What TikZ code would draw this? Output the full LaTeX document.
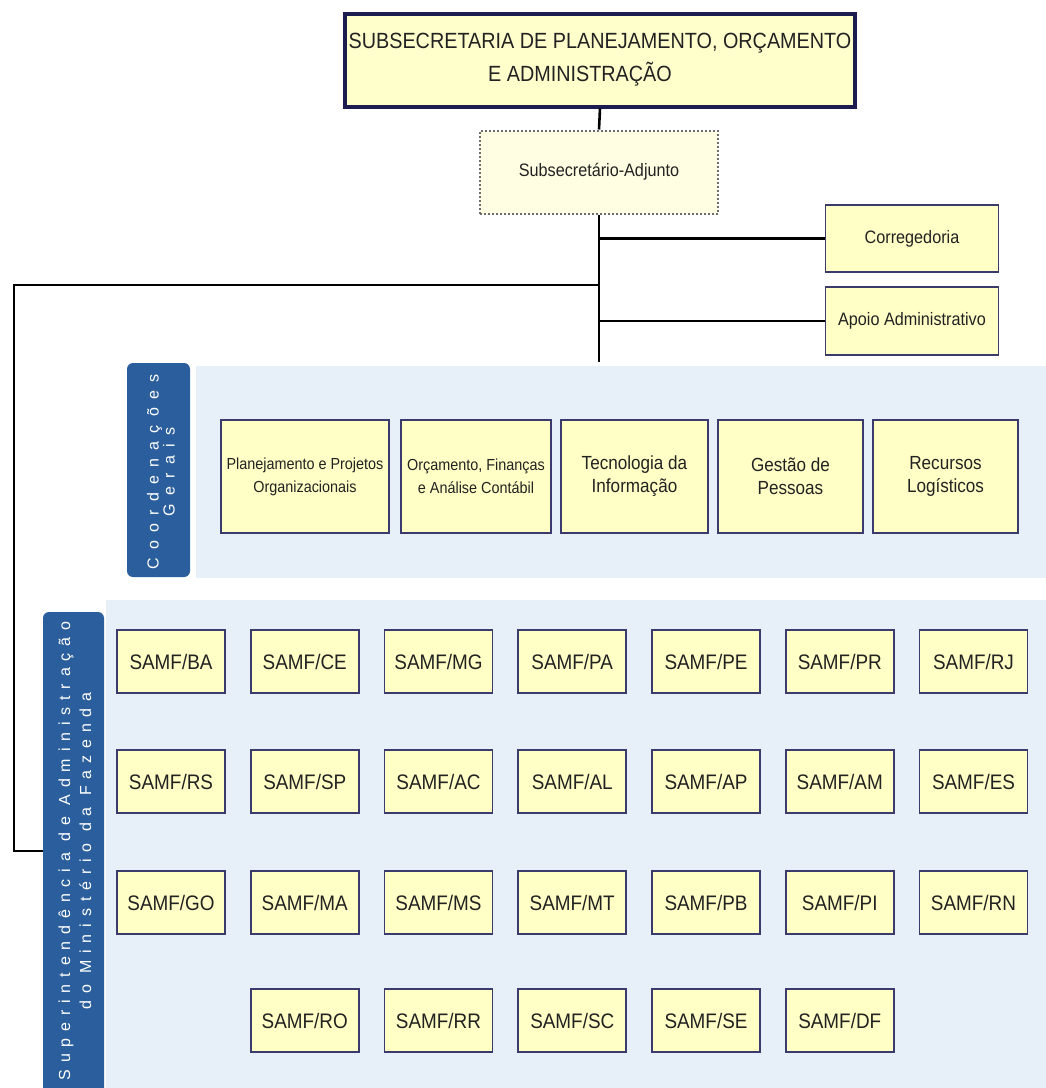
\documentclass[tikz,border=0pt]{standalone}
\usepackage{fontspec}
\setmainfont{Liberation Sans}
\newfontfamily\nar[FakeStretch=0.9]{Liberation Sans}
\newfontfamily\spcA[LetterSpace=52]{Liberation Sans}
\newfontfamily\spcB[LetterSpace=43]{Liberation Sans}
\definecolor{boxfill}{HTML}{FFFFC6}
\definecolor{titlefill}{HTML}{FFFFCC}
\definecolor{subfill}{HTML}{FFFDE2}
\definecolor{boxborder}{HTML}{3A3A6C}
\definecolor{titleborder}{HTML}{1C1C50}
\definecolor{barblue}{HTML}{2B5E9C}
\definecolor{panel}{HTML}{E7EFF9}
\definecolor{txt}{HTML}{222222}
\begin{document}
\begin{tikzpicture}[x=1pt,y=-1pt,
  ybox/.style={draw=boxborder, line width=1.8pt, fill=boxfill, inner sep=0pt,
    align=center, text=txt},
  samf/.style={ybox, minimum width=108pt, minimum height=63pt,
    font=\nar\fontsize{21}{25}\selectfont},
  coordbig/.style={ybox, minimum height=113pt, font=\nar\fontsize{19}{23}\selectfont},
  coordsmall/.style={ybox, minimum height=113pt, font=\nar\fontsize{16}{23}\selectfont},
  sidebox/.style={ybox, minimum width=173pt, font=\nar\fontsize{18}{22}\selectfont},
  bar/.style={fill=barblue, rounded corners=6pt},
  bartext/.style={rotate=90, align=center, text=white},
  conn/.style={draw=black, line width=2.6pt},
  thin/.style={draw=black, line width=1.8pt}
]
\useasboundingbox (0,0) rectangle (1046,1088);
\fill[white] (0,0) rectangle (1046,1088);
% panels
\fill[panel] (196,366) rectangle (1046,578);
\fill[panel] (106,600) rectangle (1046,1088);
% bars
\fill[bar] (127,363) rectangle (190,577);
\fill[bar] (43,612) rectangle (104,1098);
\node[bartext, font=\spcA\fontsize{16}{16}\selectfont] (cgbar) at (161,472) {Coordenações\\Gerais};
\node[bartext, font=\spcB\fontsize{16}{21}\selectfont] (supbar) at (75,851) {Superintendência de Administração\\do Ministério da Fazenda};
\coordinate (supleft) at (43,851);
% top
\node[draw=titleborder, line width=4pt, fill=titlefill, minimum width=510pt, minimum height=93pt,
  align=center, text=txt, font=\nar\fontsize{22}{33}\selectfont] (top) at (600,60)
  {SUBSECRETARIA DE PLANEJAMENTO, ORÇAMENTO\\E ADMINISTRAÇÃO\hspace*{40pt}};
\node[draw=gray!85!black, line width=2pt, dotted, fill=subfill, minimum width=238pt, minimum height=83pt,
  text=txt, font=\nar\fontsize{18}{22}\selectfont] (sub) at (599,172) {Subsecretário-Adjunto};
\node[sidebox, minimum height=67pt] (corr) at (912,238.5) {Corregedoria};
\node[sidebox, minimum height=68pt] (apoio) at (912,321) {Apoio Administrativo};
% connectors
\draw[conn] (top.south) -- (sub.north);
\coordinate (vend) at (599,362);
\coordinate (lt) at (14,285);
\draw[thin] (sub.south) -- (vend);
\draw[conn] (sub.south |- corr.west) -- (corr.west);
\draw[conn] (sub.south |- apoio.west) -- (apoio.west);
\draw[thin] (sub.south |- lt) -- (lt) |- (supleft);
% coordenacoes gerais
\node[coordsmall, minimum width=168pt] (c1) at (305,476.5) {Planejamento e Projetos\\Organizacionais};
\node[coordsmall, minimum width=150pt] (c2) at (476,476.5) {Orçamento, Finanças\\e Análise Contábil};
\node[coordbig, minimum width=147pt] (c3) at (634.5,476.5) {Tecnologia da\\Informação};
\node[coordbig, minimum width=145pt] (c4) at (790.5,476.5) {Gestão de\\Pessoas};
\node[coordbig, minimum width=145pt] (c5) at (945.5,476.5) {Recursos\\Logísticos};
% SAMF grid
\foreach \n [count=\i] in {BA,CE,MG,PA,PE,PR,RJ}
  \node[samf] (s\n) at ({171+133.75*(\i-1)},661.5) {SAMF/\n};
\foreach \n [count=\i] in {RS,SP,AC,AL,AP,AM,ES}
  \node[samf] (s\n) at ({171+133.75*(\i-1)},781.5) {SAMF/\n};
\foreach \n [count=\i] in {GO,MA,MS,MT,PB,PI,RN}
  \node[samf] (s\n) at ({171+133.75*(\i-1)},902.5) {SAMF/\n};
\foreach \n [count=\i] in {RO,RR,SC,SE,DF}
  \node[samf] (s\n) at ({171+133.75*\i},1020.5) {SAMF/\n};
\end{tikzpicture}
\end{document}
